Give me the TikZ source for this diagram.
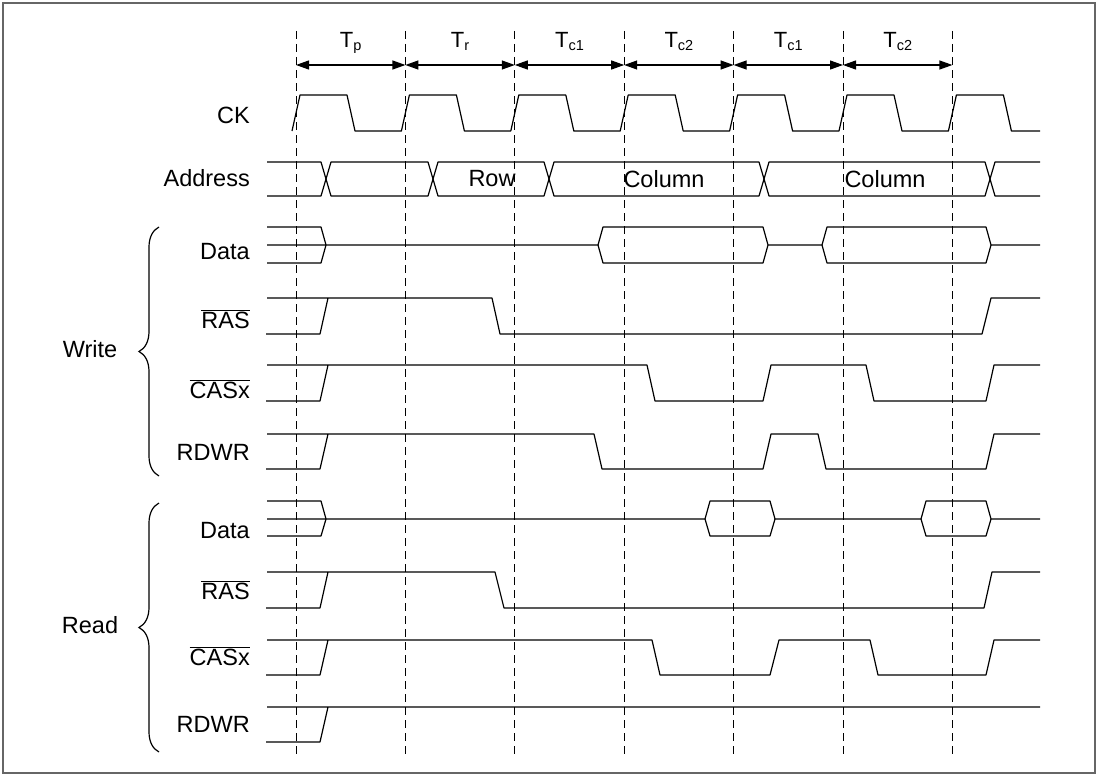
\documentclass[tikz,border=0pt]{standalone}
\usepackage{fontspec}
\setmainfont{Liberation Sans}
\usetikzlibrary{arrows.meta,decorations.pathreplacing}
\newcommand{\nsig}[1]{$\overline{\mbox{#1}}$}
\newcommand{\tsub}[1]{T\raisebox{-2.5pt}{\fontsize{14.5}{16}\selectfont #1}}

\begin{document}
\begin{tikzpicture}[x=1pt,y=-1pt,
  sig/.style={line width=1.2pt,line join=round},
  grid/.style={dash pattern=on 8pt off 5pt,line width=0.9pt},
  lbl/.style={anchor=base east,inner sep=0pt,font=\fontsize{23.5}{27}\selectfont},
  grp/.style={inner sep=0pt,font=\fontsize{23.5}{27}\selectfont},
  tlbl/.style={anchor=base,inner sep=0pt,font=\fontsize{22}{26}\selectfont},
  per/.style={{Triangle[length=13pt,width=9pt]}-{Triangle[length=13pt,width=9pt]},line width=1.2pt},
  brc/.style={decorate,decoration={brace,amplitude=20pt},line width=1.2pt}]
\useasboundingbox (0,0) rectangle (1099,776);
\draw[black!60,line width=1.5pt] (3,3) rectangle (1095,773);

\foreach \i in {0,...,6}
  \draw[grid] ({296+109.4*\i},31) -- ({296+109.4*\i},757);
\foreach \i/\t in {0/p,1/r,2/c1,3/c2,4/c1,5/c2}{
  \draw[per] ({296+109.4*\i},65) -- ({405.4+109.4*\i},65);
  \node[tlbl] (T\i) at ({350.7+109.4*\i},48) {\tsub{\t}};
}

\node[lbl] (ck) at (250,123) {CK};
\node[lbl] (addr) at (250,186) {Address};
\node[lbl] (wdata) at (250,259) {Data};
\node[lbl] (wras) at (250,328) {\nsig{RAS}};
\node[lbl] (wcas) at (250,398) {\nsig{CASx}};
\node[lbl] (wrdwr) at (250,460) {RDWR};
\node[lbl] (rdata) at (250,538) {Data};
\node[lbl] (rras) at (250,599) {\nsig{RAS}};
\node[lbl] (rcas) at (250,665) {\nsig{CASx}};
\node[lbl] (rrdwr) at (250,732) {RDWR};
\node[grp] (write) at (90,349) {Write};
\node[grp] (read) at (90,625) {Read};
\draw[brc] (159,476) -- (159,227);
\draw[brc] (159,752) -- (159,503);

% CK
\draw[sig] (292,131) \foreach \i in {0,...,5}{ -- ++(8,-36) -- ++(47,0) -- ++(8,36) -- ++(46.4,0)}
  -- ++(8,-36) -- ++(47,0) -- ++(8,36) -- (1040,131);

% Address
\draw[sig] (267,162) -- (321,162) -- (331,196) -- (428,196) -- (438,162) -- (544,162) -- (554,196)
  -- (759,196) -- (769,162) -- (985,162) -- (995,196) -- (1040,196);
\draw[sig] (267,196) -- (321,196) -- (331,162) -- (428,162) -- (438,196) -- (544,196) -- (554,162)
  -- (759,162) -- (769,196) -- (985,196) -- (995,162) -- (1040,162);
\node[grp] (row) at (492,179) {Row};
\node[grp] (col1) at (664,179) {Column};
\node[grp] (col2) at (885,179) {Column};

% Write
\draw[sig] (267,227) -- (321,227) -- (326,245) -- (321,263) -- (267,263);
\draw[sig] (267,245) -- (598,245) -- (603,227) -- (763,227) -- (768,245) -- (822,245) -- (827,227)
  -- (986,227) -- (991,245) -- (1040,245);
\draw[sig] (598,245) -- (603,263) -- (763,263) -- (768,245) (822,245) -- (827,263) -- (986,263) -- (991,245);
\draw[sig] (267,298) -- (328,298) (266,334) -- (320,334) -- (328,298) -- (492,298) -- (500,334)
  -- (982,334) -- (991,298) -- (1040,298);
\draw[sig] (267,365) -- (328,365) (266,401) -- (320,401) -- (328,365) -- (647,365) -- (655,401)
  -- (763,401) -- (771,365) -- (866,365) -- (874,401) -- (986,401) -- (994,365) -- (1040,365);
\draw[sig] (267,434) -- (328,434) (266,469) -- (320,469) -- (328,434) -- (594,434) -- (602,469)
  -- (763,469) -- (771,434) -- (818,434) -- (826,469) -- (986,469) -- (994,434) -- (1040,434);

% Read
\draw[sig] (267,501) -- (321,501) -- (326,519) -- (321,536) -- (267,536);
\draw[sig] (267,519) -- (705,519) -- (710,501) -- (770,501) -- (775,519) -- (921,519) -- (926,501)
  -- (986,501) -- (991,519) -- (1040,519);
\draw[sig] (705,519) -- (710,536) -- (770,536) -- (775,519) (921,519) -- (926,536) -- (986,536) -- (991,519);
\draw[sig] (267,572) -- (328,572) (266,608) -- (320,608) -- (328,572) -- (495,572) -- (504,608)
  -- (984,608) -- (992,572) -- (1040,572);
\draw[sig] (267,640) -- (328,640) (266,675) -- (320,675) -- (328,640) -- (652,640) -- (660,675)
  -- (770,675) -- (779,640) -- (870,640) -- (878,675) -- (986,675) -- (994,640) -- (1040,640);
\draw[sig] (267,707) -- (328,707) (266,742) -- (320,742) -- (328,707) -- (1040,707);
\end{tikzpicture}
\end{document}
